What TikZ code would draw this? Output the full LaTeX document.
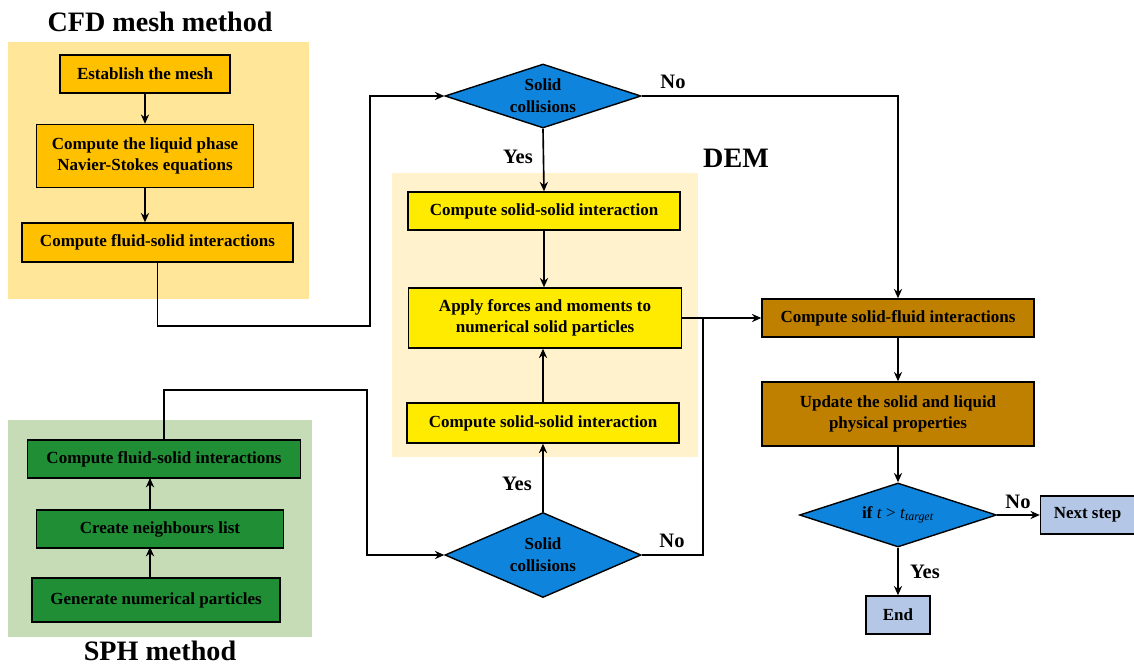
\documentclass[tikz,border=0pt]{standalone}
\usepackage{fontspec}
\setmainfont{Liberation Serif}
\usetikzlibrary{shapes.geometric,arrows.meta}
\definecolor{cfdbg}{HTML}{FFE699}
\definecolor{cfdgold}{HTML}{FFC000}
\definecolor{dembg}{HTML}{FFF2CC}
\definecolor{demyel}{HTML}{FFEB00}
\definecolor{sphbg}{HTML}{C6DCB6}
\definecolor{sphgreen}{HTML}{1F8E34}
\definecolor{fluidbrown}{HTML}{BF8000}
\definecolor{decblue}{HTML}{0F84DC}
\definecolor{stepblue}{HTML}{B4C7E7}

\begin{document}
\begin{tikzpicture}[x=0.03cm,y=-0.03cm,
	box/.style={draw,line width=1.2pt,inner sep=0pt,align=center,font=\fontsize{14.5}{18}\selectfont\bfseries},
	cfdbox/.style={box,fill=cfdgold},
	dembox/.style={box,fill=demyel},
	sphbox/.style={box,fill=sphgreen},
	fluidbox/.style={box,fill=fluidbrown},
	stepbox/.style={box,fill=stepblue},
	decision/.style={diamond,draw,line width=1.2pt,fill=decblue,inner sep=0pt,aspect=3,align=center,font=\fontsize{14.5}{18.5}\selectfont\bfseries},
	arr/.style={line width=1.4pt,-{Stealth[length=8pt,width=7pt]}},
	link/.style={line width=1.4pt},
	lbl/.style={font=\fontsize{17.5}{20}\selectfont\bfseries},
	ttl/.style={font=\fontsize{24}{28}\selectfont\bfseries}]
	\useasboundingbox (0,0) rectangle (1134,667);
	\fill[cfdbg] (8,42) rectangle (309,299);
	\fill[dembg] (392,173) rectangle (698,457);
	\fill[sphbg] (8,420) rectangle (312,637);

	\node[ttl] (cfdtitle) at (160,22) {CFD mesh method};
	\node[ttl] (demtitle) at (736,158) {DEM};
	\node[ttl] (sphtitle) at (160,651) {SPH method};

	% CFD mesh method
	\node[cfdbox,minimum width=5.1cm,minimum height=1.14cm] (mesh) at (145,74) {Establish the mesh};
	\node[cfdbox,minimum width=6.51cm,minimum height=1.89cm] (liquid) at (145,156) {Compute the liquid phase\\Navier-Stokes equations};
	\node[cfdbox,minimum width=8.13cm,minimum height=1.17cm] (cfdint) at (157.5,242.5) {Compute fluid-solid interactions};
	\draw[arr] (mesh.south) -- (mesh.south |- liquid.north);
	\draw[arr] (liquid.south) -- (liquid.south |- cfdint.north);

	% SPH method
	\node[sphbox,minimum width=8.19cm,minimum height=1.14cm] (sphint) at (164,459) {Compute fluid-solid interactions};
	\node[sphbox,minimum width=7.41cm,minimum height=1.14cm] (neigh) at (160,529) {Create neighbours list};
	\node[sphbox,minimum width=7.44cm,minimum height=1.32cm] (gen) at (156,600) {Generate numerical particles};
	\draw[arr] (150,578) -- (150,547);
	\draw[arr] (150,510) -- (150,478);

	% DEM
	\node[decision,minimum width=5.88cm,minimum height=1.92cm] (coll1) at (543,96) {Solid\\collisions};
	\node[dembox,minimum width=8.16cm,minimum height=1.14cm] (dem1) at (544,211) {Compute solid-solid interaction};
	\node[dembox,minimum width=8.19cm,minimum height=1.8cm] (apply) at (545,318) {Apply forces and moments to\\numerical solid particles};
	\node[dembox,minimum width=8.16cm,minimum height=1.2cm] (dem2) at (543,423) {Compute solid-solid interaction};
	\node[decision,minimum width=5.88cm,minimum height=2.55cm] (coll2) at (543,555) {Solid\\collisions};

	% coupling and time step
	\node[fluidbox,minimum width=8.16cm,minimum height=1.14cm] (sfint) at (898,318) {Compute solid-fluid interactions};
	\node[fluidbox,minimum width=8.16cm,minimum height=1.92cm] (update) at (898,414) {Update the solid and liquid\\physical properties};
	\node[decision,minimum width=5.91cm,minimum height=1.92cm,font=\fontsize{14.5}{18}\selectfont] (tcheck) at (898,515) {\textbf{if} \textit{t} > \textit{t}\textsubscript{\textit{target}}};
	\node[stepbox,minimum width=2.82cm,minimum height=1.14cm] (next) at (1087.5,515) {Next step};
	\node[stepbox,minimum width=1.92cm,minimum height=1.14cm] (finish) at (898,615) {End};

	\coordinate (c1) at (370,326);
	\coordinate (c2) at (367,390);
	\coordinate (c3) at (703,318);
	\draw[arr] (cfdint.south) |- (c1) |- (coll1.west);
	\draw[arr] (sphint.north) |- (c2) |- (coll2.west);
	\draw[arr] (coll1.east) -| (sfint.north);
	\draw[arr] (coll1.south) -- (dem1.north);
	\draw[arr] (dem1.south) -- (dem1.south |- apply.north);
	\draw[arr] (dem2.north) -- (dem2.north |- apply.south);
	\draw[arr] (coll2.north) -- (dem2.south);
	\draw[arr] (apply.east) -- (sfint.west);
	\draw[link] (coll2.east) -| (c3);
	\draw[arr] (sfint.south) -- (update.north);
	\draw[arr] (update.south) -- (tcheck.north);
	\draw[arr] (tcheck.east) -- (next.west);
	\draw[arr] (tcheck.south) -- (finish.north);

	\foreach \t/\x/\y[count=\k] in {No/673/82,Yes/518/157,Yes/517/484,No/672/541,No/1018/502,Yes/925/572}
	{
		\node[lbl] (lbl\k) at (\x,\y) {\t};
	}
\end{tikzpicture}
\end{document}
